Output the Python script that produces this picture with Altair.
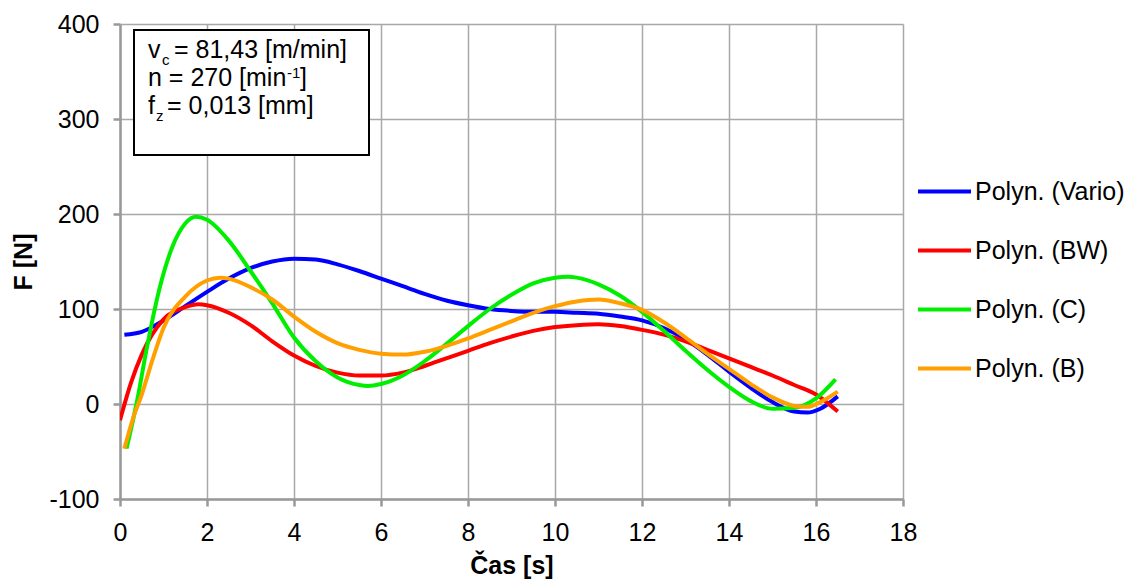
import altair as alt
import pandas as pd

# ---- data ----
series_names = ["Polyn. (Vario)", "Polyn. (BW)", "Polyn. (C)", "Polyn. (B)"]
series_colors = ["#0000ff", "#ff0000", "#00ee00", "#ffa000"]

vario_x = [0.1, 0.5, 1.0, 1.5, 2.0, 2.5, 3.0, 3.5, 4.0, 4.5, 5.0, 5.5, 6.0, 6.5, 7.0, 7.5, 8.0,
           8.5, 9.0, 9.5, 10.0, 10.5, 11.0, 11.5, 12.0, 12.5, 13.0, 13.5, 14.0, 14.5, 15.0,
           15.5, 15.8, 16.1, 16.5]
vario_y = [73, 76, 88, 103, 118, 132, 143, 150, 153, 152, 147, 140, 132, 124, 116, 109, 104,
           100, 98, 97, 97, 96, 95, 92, 88, 80, 68, 52, 34, 17, 2,
           -8, -9, -5, 8]

bw_x = [0.0, 0.25, 0.5, 1.0, 1.5, 1.8, 2.0, 2.5, 3.0, 3.5, 4.0, 4.5, 5.0, 5.5, 6.0, 6.5, 7.0,
        7.5, 8.0, 8.5, 9.0, 9.5, 10.0, 10.5, 11.0, 11.5, 12.0, 12.5, 13.0, 13.5, 14.0, 14.5,
        15.0, 15.5, 16.0, 16.5]
bw_y = [-17, 22, 52, 89, 102, 105, 104, 96, 83, 66, 51, 40, 33, 30, 30, 33, 40,
        48, 56, 64, 71, 77, 81, 83, 84, 82, 78, 73, 66, 57, 48, 39,
        30, 20, 10, -8]

c_x = [0.15, 0.4, 0.6, 0.9, 1.2, 1.5, 1.75, 2.0, 2.5, 3.0, 3.5, 4.0, 4.5, 5.0, 5.5, 5.7, 6.0,
       6.5, 7.0, 7.5, 8.0, 8.5, 9.0, 9.5, 10.0, 10.3, 10.5, 11.0, 11.5, 12.0, 12.5, 13.0,
       13.5, 14.0, 14.5, 15.0, 15.5, 16.0, 16.45]
c_y = [-47, 5, 55, 120, 165, 190, 197, 194, 172, 140, 106, 70, 45, 28, 20, 19, 21,
       30, 45, 63, 82, 100, 115, 127, 133, 134, 133, 126, 114, 97, 77, 56,
       36, 18, 3, -5, -4, 6, 26]

b_x = [0.1, 0.3, 0.5, 0.75, 1.0, 1.5, 2.0, 2.3, 2.5, 3.0, 3.5, 4.0, 4.5, 5.0, 5.5, 6.0, 6.5,
       7.0, 7.5, 8.0, 8.5, 9.0, 9.5, 10.0, 10.5, 11.0, 11.5, 12.0, 12.5, 13.0, 13.5, 14.0,
       14.5, 15.0, 15.5, 15.8, 16.1, 16.5]
b_y = [-47, -15, 10, 47, 80, 113, 130, 133, 132, 123, 110, 92, 76, 64, 57, 53, 52,
       55, 61, 69, 78, 87, 96, 103, 108, 110, 106, 99, 86, 70, 53, 37,
       21, 7, -2, -3, 2, 13]

x_ticks = [0, 2, 4, 6, 8, 10, 12, 14, 16, 18]
y_ticks = [-100, 0, 100, 200, 300, 400]

x_title = "Čas [s]"
y_title = "F [N]"

# annotation box text pieces
box_v, box_v_sub, box_v_rest = "v", "c", "= 81,43 [m/min]"
box_n, box_n_sup, box_n_end = "n = 270 [min", "-1", "]"
box_f, box_f_sub, box_f_rest = "f", "z", "= 0,013 [mm]"

FONT = "Liberation Sans"
FS = 25

rows = []
for name, xs, ys in zip(series_names, [vario_x, bw_x, c_x, b_x], [vario_y, bw_y, c_y, b_y]):
    for xv, yv in zip(xs, ys):
        rows.append({"series": name, "t": xv, "F": yv})
df = pd.DataFrame(rows)

W, H = 783, 475

lines = alt.Chart(df).mark_line(strokeWidth=4, interpolate="monotone", clip=True).encode(
    x=alt.X("t:Q", scale=alt.Scale(domain=[0, 18], nice=False),
            axis=alt.Axis(values=x_ticks, title=x_title, labelExpr="'' + datum.value",
                          labelFlush=False)),
    y=alt.Y("F:Q", scale=alt.Scale(domain=[-100, 400], nice=False),
            axis=alt.Axis(values=y_ticks, title=y_title, labelExpr="'' + datum.value",
                          labelFlush=False)),
    color=alt.Color("series:N",
                    scale=alt.Scale(domain=series_names, range=series_colors),
                    sort=series_names,
                    legend=alt.Legend(title=None, orient="none", legendX=796, legendY=139,
                                      symbolType="stroke", symbolSize=2809,
                                      symbolStrokeWidth=4, labelFontSize=FS,
                                      labelFont=FONT, labelColor="#000000",
                                      labelOffset=2, rowPadding=17)),
    detail="series:N",
)

one = pd.DataFrame({"k": [0]})

box = alt.Chart(one).mark_rect(fill="white", stroke="black", strokeWidth=2).encode(
    x=alt.value(14), x2=alt.value(249), y=alt.value(6), y2=alt.value(131)
)


def txt(s, x, y, size):
    return alt.Chart(one).mark_text(align="left", baseline="alphabetic", font=FONT,
                                    fontSize=size, color="black").encode(
        x=alt.value(x), y=alt.value(y), text=alt.value(s))


annot = [
    txt(box_v, 28, 34, FS), txt(box_v_sub, 42, 41, 15), txt(box_v_rest, 54, 34, FS),
    txt(box_n, 28, 62, FS), txt(box_n_sup, 167, 54, 15), txt(box_n_end, 180, 62, FS),
    txt(box_f, 28, 90, FS), txt(box_f_sub, 36, 97, 15), txt(box_f_rest, 47, 90, FS),
]

chart = alt.layer(lines, box, *annot).properties(
    width=W, height=H,
    autosize=alt.AutoSizeParams(type="none"),
    padding={"left": 112, "top": 16, "right": 227, "bottom": 81},
).configure_view(stroke=None).configure_axis(
    labelFont=FONT, labelFontSize=FS, labelColor="#000000",
    titleFont=FONT, titleFontSize=FS, titleFontWeight="bold", titleColor="#000000",
    gridColor="#a8a8a8", gridWidth=1.5,
    domainColor="#999999", domainWidth=2.5,
    tickColor="#999999", tickWidth=2.5, tickSize=7,
    labelPadding=14,
).configure_axisX(titlePadding=8).configure_axisY(titlePadding=12)

chart.save("out.html", embed_options={"renderer": "svg", "actions": False})
